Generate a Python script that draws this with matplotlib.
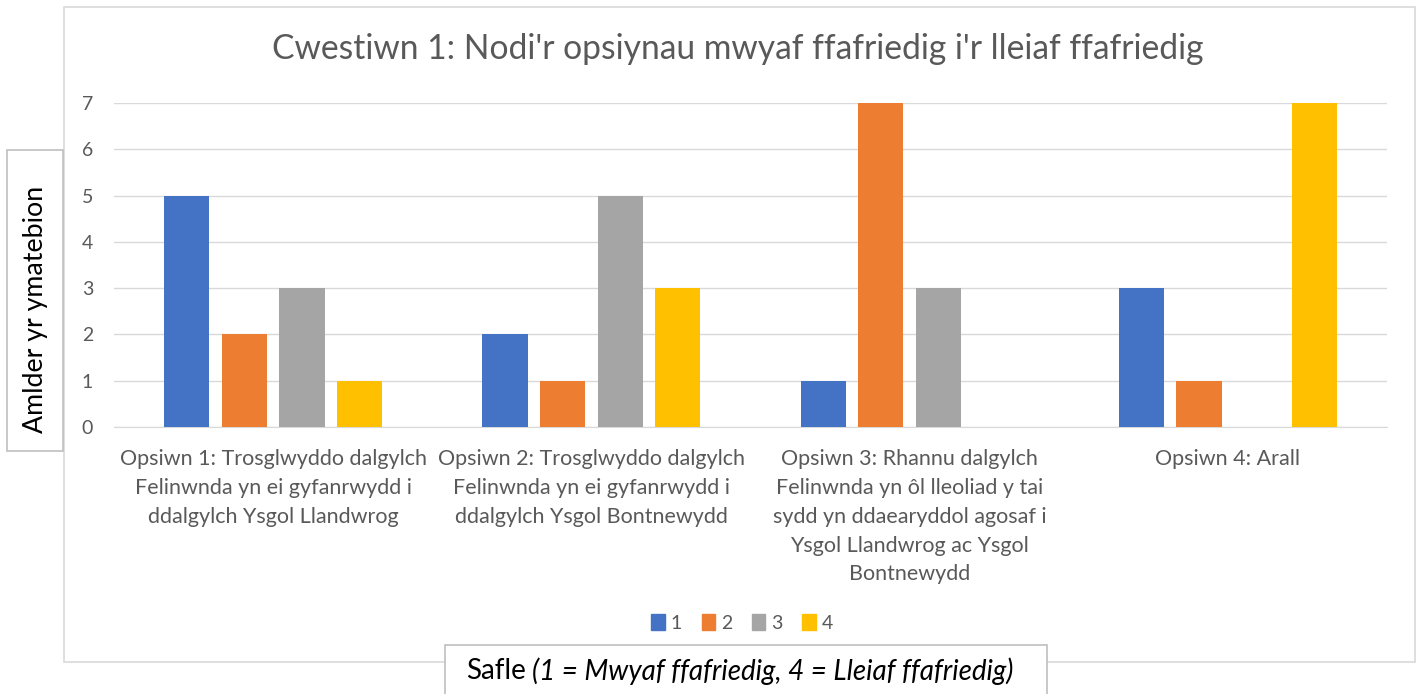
import numpy as np
import matplotlib.pyplot as plt
from matplotlib.patches import Rectangle, Patch

# data
categories = [
    "Opsiwn 1: Trosglwyddo dalgylch\nFelinwnda yn ei gyfanrwydd i\nddalgylch Ysgol Llandwrog",
    "Opsiwn 2: Trosglwyddo dalgylch\nFelinwnda yn ei gyfanrwydd i\nddalgylch Ysgol Bontnewydd",
    "Opsiwn 3: Rhannu dalgylch\nFelinwnda yn ôl lleoliad y tai\nsydd yn ddaearyddol agosaf i\nYsgol Llandwrog ac Ysgol\nBontnewydd",
    "Opsiwn 4: Arall",
]
rank_labels = ["1", "2", "3", "4"]
rank1 = [5, 2, 1, 3]
rank2 = [2, 1, 7, 1]
rank3 = [3, 5, 3, 0]
rank4 = [1, 3, 0, 7]
colors = ["#4472C4", "#ED7D31", "#A5A5A5", "#FFC000"]

W, H = 1420, 694
plt.rcParams['font.family'] = ['Lato', 'DejaVu Sans']
fig = plt.figure(figsize=(W / 100, H / 100), dpi=100)

def fx(px):
    return px / W

def fy(py):
    return 1 - py / H

# outer chart frame
fig.patches.append(Rectangle((fx(64), fy(662)), fx(1415) - fx(64), fy(7) - fy(662),
                             transform=fig.transFigure, fill=False, edgecolor="#D9D9D9", lw=1.2))

ax = fig.add_axes([fx(114), fy(427), fx(1387) - fx(114), fy(103) - fy(427)])
x = np.arange(len(categories))
width = 0.142
step = 0.181
series = [rank1, rank2, rank3, rank4]
for i, vals in enumerate(series):
    ax.bar(x + (i - 1.5) * step, vals, width, color=colors[i], label=rank_labels[i], zorder=3)

ax.set_xlim(-0.5, 3.5)
ax.set_ylim(0, 7)
ax.set_yticks(range(0, 8))
ax.grid(axis="y", color="#D9D9D9", lw=1, zorder=0)
for s in ["top", "right", "left"]:
    ax.spines[s].set_visible(False)
ax.spines["bottom"].set_color("#D9D9D9")
ax.tick_params(axis="both", length=0, labelcolor="#595959")
ax.tick_params(axis="y", labelsize=14, pad=15)
ax.set_xticks(x)
ax.set_xticklabels(categories, fontsize=15.5, linespacing=1.55, va="top")
ax.tick_params(axis="x", pad=16)

fig.text(fx(738), fy(49), "Cwestiwn 1: Nodi'r opsiynau mwyaf ffafriedig i'r lleiaf ffafriedig",
         ha="center", va="center", fontsize=24.2, color="#595959")

# y axis title box
fig.patches.append(Rectangle((fx(7), fy(451)), fx(63) - fx(7), fy(150) - fy(451),
                             transform=fig.transFigure, facecolor="white", edgecolor="#BFBFBF", lw=1.2))
fig.text(fx(36), fy(309), "Amlder yr ymatebion", rotation=90, ha="center", va="center",
         fontsize=19.3, color="black")

# x axis title box
fig.patches.append(Rectangle((fx(445), fy(700)), fx(1047) - fx(445), fy(645) - fy(700),
                             transform=fig.transFigure, facecolor="white", edgecolor="#BFBFBF", lw=1.2))
fig.text(fx(526), fy(671), "Safle", ha="right", va="center", fontsize=20, color="black")
fig.text(fx(532), fy(671), "(1 = Mwyaf ffafriedig, 4 = Lleiaf ffafriedig)", ha="left", va="center",
         fontsize=20, style="italic", color="black")

handles = [Patch(color=c) for c in colors]
fig.legend(handles, rank_labels, loc="center", bbox_to_anchor=(fx(742), fy(623)), ncol=4,
           frameon=False, fontsize=14, handlelength=0.7, handleheight=0.9,
           handletextpad=0.3, columnspacing=1.0, labelcolor="#595959")

fig.savefig("out.png", dpi=100)
